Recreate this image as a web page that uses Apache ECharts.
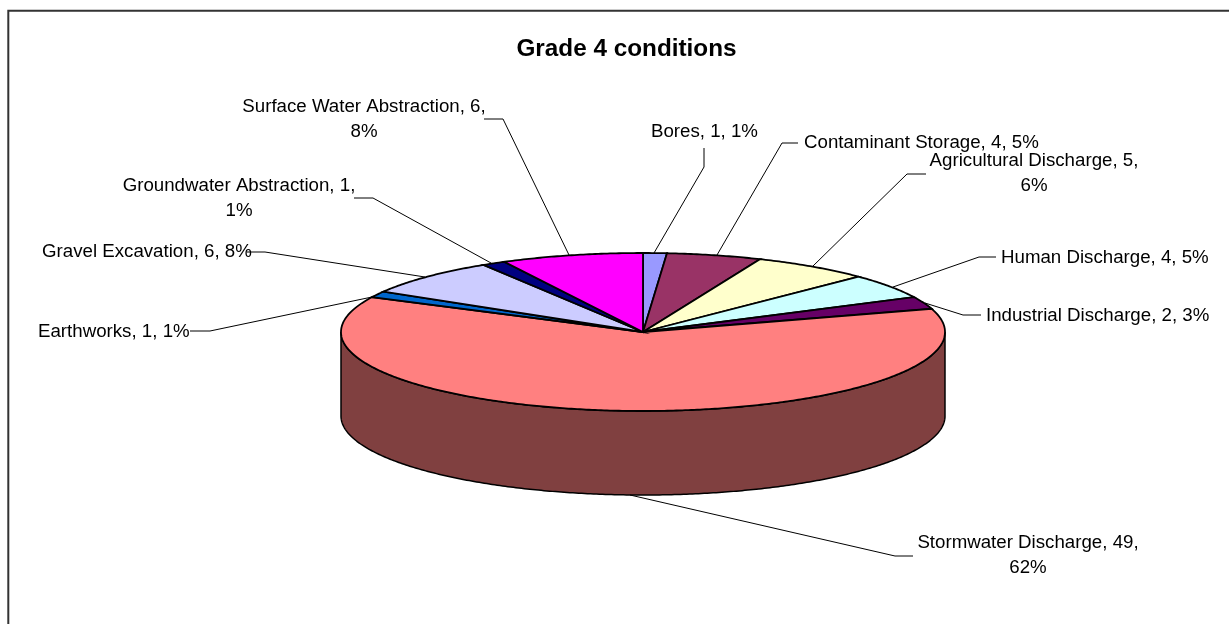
<!DOCTYPE html>
<html>
<head>
  <meta charset="utf-8">
  <title>Grade 4 conditions</title>
  <style>
    html, body { margin: 0; padding: 0; background: #fff; overflow: hidden; }
    #chart { width: 1229px; height: 624px; }
  </style>
</head>
<body>
  <div id="chart"></div>
  <script src="https://cdn.jsdelivr.net/npm/echarts@6/dist/echarts.min.js"></script>
  <script>
    var names = ['Bores', 'Contaminant Storage', 'Agricultural Discharge', 'Human Discharge', 'Industrial Discharge',
      'Stormwater Discharge', 'Earthworks', 'Gravel Excavation', 'Groundwater Abstraction', 'Surface Water Abstraction'];
    var counts = [1, 4, 5, 4, 2, 49, 1, 6, 1, 6];
    var colors = ['#9999FF', '#993366', '#FFFFCC', '#CCFFFF', '#660066', '#FF8080', '#0066CC', '#CCCCFF', '#000080', '#FF00FF'];
    var sideColors = ['#4D4D80', '#4D1A33', '#808066', '#668080', '#330033', '#804040', '#003366', '#666680', '#000040', '#800080'];

    // label placement: x, y of the first line, align, whether the percent wraps to a 2nd line
    var labelX = [651, 804, 1034, 1001, 986, 1028, 38, 42, 239, 364];
    var labelY = [132, 143, 161, 258, 316, 543, 332, 252, 186, 107];
    var labelAlign = ['left', 'left', 'center', 'left', 'left', 'center', 'left', 'left', 'center', 'center'];
    var labelWrap = [0, 0, 1, 0, 0, 1, 0, 0, 1, 1];
    // leader lines
    var leaders = [
      [[704, 148], [704, 167], [654, 253]],
      [[798, 143], [782, 143], [717, 255]],
      [[926, 174], [907, 174], [813, 266]],
      [[996, 257], [979, 257], [893, 287]],
      [[981, 315], [963, 315], [925, 303]],
      [[913, 556], [895, 556], [630, 495]],
      [[190, 331], [210, 331], [372, 297]],
      [[247, 252], [265, 252], [425, 277]],
      [[354, 198], [373, 198], [491, 263]],
      [[484, 119], [503, 119], [569, 255]]
    ];

    var cx = 643, cy = 332, rx = 302, ry = 79, depth = 84;
    var lineGap = 25;
    var total = counts.reduce(function (a, b) { return a + b; }, 0);
    var FONT = '"Liberation Sans", Arial, sans-serif';

    function pt(angle, dy) {
      // angle runs clockwise from 12 o'clock
      return [cx + rx * Math.sin(angle), cy - ry * Math.cos(angle) + (dy || 0)];
    }
    function arc(a0, a1, dy) {
      var pts = [];
      var n = Math.max(2, Math.ceil(Math.abs(a1 - a0) / 0.01));
      for (var i = 0; i <= n; i++) {
        pts.push(pt(a0 + (a1 - a0) * i / n, dy));
      }
      return pts;
    }

    function renderSlice(params, api) {
      var i = api.value(0);
      var before = 0;
      for (var k = 0; k < i; k++) before += counts[k];
      var a0 = before / total * Math.PI * 2;
      var a1 = (before + api.value(1)) / total * Math.PI * 2;
      var children = [];
      // side wall, only the part of the rim that faces the viewer
      var s0 = Math.max(a0, Math.PI / 2), s1 = Math.min(a1, Math.PI * 1.5);
      if (s1 > s0) {
        children.push({
          type: 'polygon',
          shape: { points: arc(s0, s1, 0).concat(arc(s1, s0, depth)) },
          style: { fill: sideColors[i], stroke: '#000', lineWidth: 1.5 }
        });
      }
      children.push({
        type: 'polygon',
        shape: { points: [[cx, cy]].concat(arc(a0, a1, 0)) },
        style: { fill: colors[i], stroke: '#000', lineWidth: 1.8 }
      });
      return { type: 'group', children: children };
    }

    function labelText(i) {
      var pct = Math.round(counts[i] / total * 100) + '%';
      return names[i] + ', ' + counts[i] + ',' + (labelWrap[i] ? '\n' : ' ') + pct;
    }

    // the frame runs off the right and bottom of the picture
    var graphics = [{
      type: 'rect',
      shape: { x: 8.3, y: 10.7, width: 1400, height: 800 },
      style: { fill: 'none', stroke: '#333', lineWidth: 2 }
    }];
    leaders.forEach(function (l) {
      graphics.push({
        type: 'polyline', z: 10,
        shape: { points: l },
        style: { fill: 'none', stroke: '#000', lineWidth: 1 }
      });
    });
    names.forEach(function (n, i) {
      graphics.push({
        type: 'text', z: 11,
        x: labelX[i], y: labelY[i] + (labelWrap[i] ? lineGap / 2 : 0),
        style: {
          text: labelText(i), font: '18.7px ' + FONT, fill: '#000',
          align: labelAlign[i], verticalAlign: 'middle', lineHeight: lineGap
        }
      });
    });

    var chart = echarts.init(document.getElementById('chart'));
    chart.setOption({
      backgroundColor: '#fff',
      animation: false,
      title: {
        text: 'Grade 4 conditions',
        left: 621.5, top: 32, textAlign: 'center',
        textStyle: { fontFamily: FONT, fontSize: 24.3, fontWeight: 'bold', color: '#000' }
      },
      graphic: graphics,
      series: [{
        type: 'custom',
        coordinateSystem: 'none',
        renderItem: renderSlice,
        encode: { tooltip: 1, itemName: 2 },
        data: counts.map(function (c, i) { return [i, c, names[i]]; })
      }]
    });
  </script>
</body>
</html>
